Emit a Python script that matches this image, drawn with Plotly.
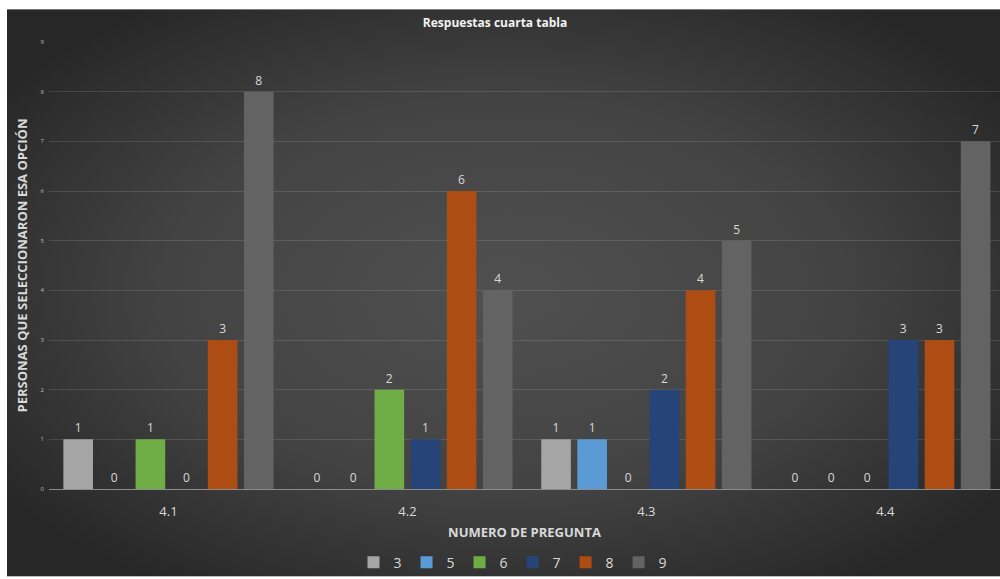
import base64
import plotly.graph_objects as go

categories = ["4.1", "4.2", "4.3", "4.4"]
series_names = ["3", "5", "6", "7", "8", "9"]
values_3 = [1, 0, 1, 0]
values_5 = [0, 0, 1, 0]
values_6 = [1, 2, 0, 0]
values_7 = [0, 1, 2, 3]
values_8 = [3, 6, 4, 3]
values_9 = [8, 4, 5, 7]
series_values = [values_3, values_5, values_6, values_7, values_8, values_9]
colors = ["#a5a5a5", "#5b9bd5", "#70ad47", "#264478", "#ad4d14", "#636363"]
y_ticks = list(range(0, 10))

W, H = 1000, 579
ml, mr, mt, mb = 49, 0, 42, 88
pw, ph = W - ml - mr, H - mt - mb

svg = (
    '<svg xmlns="http://www.w3.org/2000/svg" width="993" height="570" viewBox="0 0 993 570" preserveAspectRatio="none">'
    '<defs><radialGradient id="g" cx="0.5" cy="0.5" r="0.62" gradientUnits="objectBoundingBox">'
    '<stop offset="0" stop-color="#505050"/><stop offset="0.55" stop-color="#434343"/>'
    '<stop offset="1" stop-color="#272727"/></radialGradient></defs>'
    '<rect width="993" height="570" fill="url(#g)"/></svg>'
)
src = "data:image/svg+xml;base64," + base64.b64encode(svg.encode()).decode()

fig = go.Figure()
for name, vals, col in zip(series_names, series_values, colors):
    fig.add_trace(go.Bar(
        x=categories, y=vals, name=name, marker=dict(color=col, line=dict(width=0)),
        text=[str(v) for v in vals], textposition="outside", cliponaxis=False,
        textfont=dict(size=12, color="#d9d9d9", family="Open Sans"),
    ))

x0 = (7 - ml) / pw
y_top = (H - mb - 9) / ph
y_bot = (H - mb - H) / ph
fig.add_layout_image(dict(
    source=src, xref="paper", yref="paper", x=x0, y=y_top,
    sizex=(W - 7) / pw, sizey=y_top - y_bot, sizing="stretch",
    xanchor="left", yanchor="top", layer="below",
))

fig.update_layout(
    width=W, height=H,
    margin=dict(l=ml, r=mr, t=mt, b=mb),
    paper_bgcolor="white", plot_bgcolor="rgba(0,0,0,0)",
    barmode="group", bargap=0.093, bargroupgap=0.18,
    font=dict(family="Open Sans", color="#d9d9d9"),
    title=dict(text="<b>Respuestas cuarta tabla</b>", x=(495 - ml) / pw, xref="paper",
               xanchor="center", y=1 - 23 / H, yanchor="middle",
               font=dict(size=12, color="#f2f2f2", family="Open Sans")),
    xaxis=dict(
        range=[-0.5, 3.48], showgrid=False, showline=True, linecolor="#8c8c8c", linewidth=1,
        ticks="", tickfont=dict(size=13, color="#d9d9d9"), ticklabelstandoff=10,
        title=dict(text="<b>NUMERO DE PREGUNTA</b>", font=dict(size=13, color="#d9d9d9"), standoff=9),
    ),
    yaxis=dict(
        range=[0, 9], tickvals=y_ticks, showgrid=True, gridcolor="rgba(255,255,255,0.12)",
        gridwidth=1, zeroline=False, ticks="", tickfont=dict(size=6, color="#bfbfbf"),
        ticklabelstandoff=4,
        title=dict(text="<b>PERSONAS QUE SELECCIONARON ESA OPCIÓN</b>", font=dict(size=13, color="#d9d9d9"), standoff=10),
    ),
    legend=dict(orientation="h", x=(513 - ml) / pw, xanchor="center", y=(H - mb - 565) / ph, yanchor="middle",
                font=dict(size=14, color="#d9d9d9"), bgcolor="rgba(0,0,0,0)", itemwidth=30,
                traceorder="normal"),
    showlegend=True,
)

fig.write_html("out.html")
